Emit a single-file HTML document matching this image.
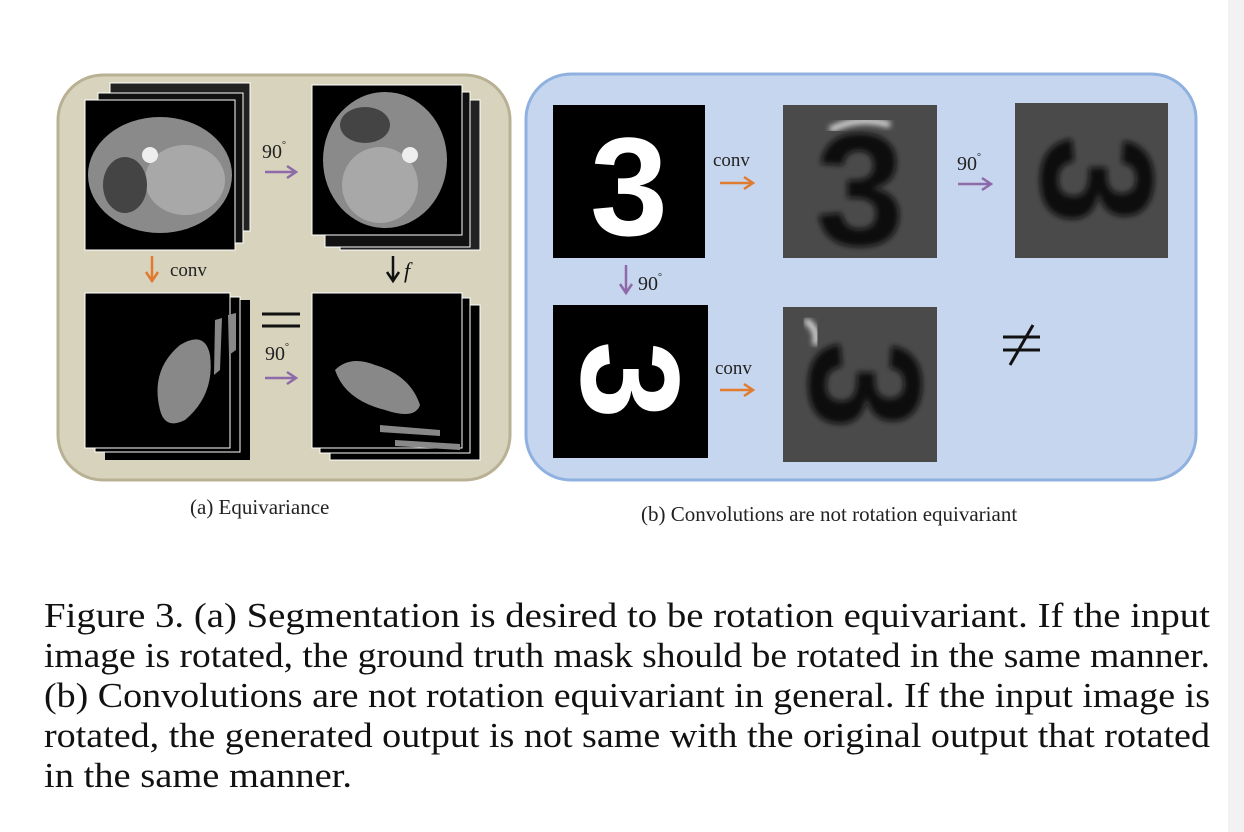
<!DOCTYPE html>
<html><head><meta charset="utf-8"><style>
html,body{margin:0;padding:0;background:#fff;}
svg{display:block;}
text{font-family:"Liberation Serif",serif;}
.sans{font-family:"Liberation Sans",sans-serif;}
</style></head><body>
<svg width="1244" height="832" viewBox="0 0 1244 832">
<defs>
<filter id="blur2"><feGaussianBlur stdDeviation="3"/></filter>
</defs>
<rect x="1228" y="0" width="16" height="832" fill="#f2f2f2"/>

<g>
<rect x="58" y="75" width="452" height="405" rx="45" fill="#d8d3bd" stroke="#b9b193" stroke-width="3"/>
<g>
<rect x="110" y="83" width="140" height="148" fill="#222" stroke="#fff"/>
<rect x="98" y="93" width="145" height="150" fill="#111" stroke="#fff"/>
<rect x="85" y="100" width="150" height="150" fill="#000" stroke="#fff"/>
<ellipse cx="160" cy="175" rx="72" ry="58" fill="#8a8a8a"/>
<ellipse cx="185" cy="180" rx="40" ry="35" fill="#a8a8a8"/>
<ellipse cx="125" cy="185" rx="22" ry="28" fill="#444"/>
<circle cx="150" cy="155" r="8" fill="#eee"/>
</g>
<g>
<rect x="340" y="100" width="140" height="150" fill="#222" stroke="#fff"/>
<rect x="325" y="92" width="145" height="155" fill="#111" stroke="#fff"/>
<rect x="312" y="85" width="150" height="150" fill="#000" stroke="#fff"/>
<ellipse cx="385" cy="160" rx="62" ry="68" fill="#8a8a8a"/>
<ellipse cx="380" cy="185" rx="38" ry="38" fill="#a8a8a8"/>
<ellipse cx="365" cy="125" rx="25" ry="18" fill="#444"/>
<circle cx="410" cy="155" r="8" fill="#eee"/>
</g>
<g>
<rect x="105" y="300" width="145" height="160" fill="#000"/>
<rect x="95" y="297" width="145" height="155" fill="#000" stroke="#fff"/>
<rect x="85" y="293" width="145" height="155" fill="#000" stroke="#fff"/>
<path d="M160 410 Q150 370 180 345 Q205 330 210 355 Q215 395 185 420 Q165 430 160 410Z" fill="#888"/>
<path d="M215 320 L222 318 L220 370 L214 375Z" fill="#888"/>
<path d="M228 315 L236 313 L236 350 L229 355Z" fill="#888"/>
</g>
<g>
<rect x="330" y="305" width="150" height="155" fill="#000" stroke="#fff"/>
<rect x="320" y="298" width="150" height="155" fill="#000" stroke="#fff"/>
<rect x="312" y="293" width="150" height="155" fill="#000" stroke="#fff"/>
<path d="M335 370 Q350 355 375 365 Q410 375 420 405 Q415 420 385 410 Q345 400 335 370Z" fill="#888"/>
<path d="M380 425 L440 430 L440 436 L380 432Z" fill="#888"/>
<path d="M395 440 L460 444 L460 450 L395 446Z" fill="#888"/>
</g>
<text x="262" y="158" font-size="20" fill="#222">90<tspan font-size="10" dy="-10">°</tspan></text>
<path d="M265 172 H295 M287 166 L296 172 L287 178" stroke="#8e6aa8" stroke-width="2.5" fill="none"/>
<path d="M152 256 V280 M146 272 L152 281 L158 272" stroke="#e07b30" stroke-width="2.5" fill="none"/>
<text x="170" y="276" font-size="19" fill="#222">conv</text>
<path d="M393 256 V280 M387 272 L393 281 L399 272" stroke="#111" stroke-width="2.5" fill="none"/>
<text x="404" y="278" font-size="22" font-style="italic" fill="#111">f</text>
<path d="M262 314 H300 M262 326 H300" stroke="#111" stroke-width="3"/>
<text x="265" y="360" font-size="20" fill="#222">90<tspan font-size="10" dy="-10">°</tspan></text>
<path d="M265 378 H295 M287 372 L296 378 L287 384" stroke="#8e6aa8" stroke-width="2.5" fill="none"/>
</g>

<g>
<rect x="526" y="74" width="670" height="406" rx="45" fill="#c6d6ee" stroke="#8fb1e0" stroke-width="3"/>
<g>
<rect x="553" y="105" width="152" height="153" fill="#000"/>
<text class="sans" style="font-family:'Liberation Sans',sans-serif" x="629" y="235" font-size="140" font-weight="bold" fill="#fff" text-anchor="middle">3</text>
</g>
<g>
<rect x="783" y="105" width="154" height="153" fill="#4a4a4a"/>
<text style="font-family:'Liberation Sans',sans-serif" x="860" y="245" font-size="160" font-weight="bold" fill="#0a0a0a" text-anchor="middle" filter="url(#blur2)">3</text>
<path d="M830 130 Q860 115 890 125" stroke="#ddd" stroke-width="6" fill="none" filter="url(#blur2)"/>
</g>
<g>
<rect x="1015" y="103" width="153" height="155" fill="#4a4a4a"/>
<text style="font-family:'Liberation Sans',sans-serif" transform="translate(1092 180) rotate(90)" x="0" y="50" font-size="160" font-weight="bold" fill="#0a0a0a" text-anchor="middle" filter="url(#blur2)">3</text>
</g>
<g>
<rect x="553" y="305" width="155" height="153" fill="#000"/>
<text style="font-family:'Liberation Sans',sans-serif" transform="translate(630 380) rotate(90)" x="0" y="48" font-size="140" font-weight="bold" fill="#fff" text-anchor="middle">3</text>
</g>
<g>
<rect x="783" y="307" width="154" height="155" fill="#4a4a4a"/>
<text style="font-family:'Liberation Sans',sans-serif" transform="translate(860 385) rotate(90)" x="0" y="50" font-size="160" font-weight="bold" fill="#0a0a0a" text-anchor="middle" filter="url(#blur2)">3</text>
<path d="M805 320 Q820 330 815 345" stroke="#ddd" stroke-width="6" fill="none" filter="url(#blur2)"/>
</g>
<text x="713" y="166" font-size="19" fill="#222">conv</text>
<path d="M720 183 H752 M744 177 L753 183 L744 189" stroke="#e07b30" stroke-width="2.5" fill="none"/>
<text x="957" y="170" font-size="20" fill="#222">90<tspan font-size="10" dy="-10">°</tspan></text>
<path d="M958 184 H990 M982 178 L991 184 L982 190" stroke="#8e6aa8" stroke-width="2.5" fill="none"/>
<path d="M626 265 V292 M620 284 L626 293 L632 284" stroke="#8e6aa8" stroke-width="2.5" fill="none"/>
<text x="638" y="290" font-size="20" fill="#222">90<tspan font-size="10" dy="-10">°</tspan></text>
<text x="715" y="374" font-size="19" fill="#222">conv</text>
<path d="M720 390 H752 M744 384 L753 390 L744 396" stroke="#e07b30" stroke-width="2.5" fill="none"/>
<g stroke="#111" stroke-width="3">
<path d="M1003 337 H1040 M1003 350 H1040"/>
<path d="M1010 365 L1033 325"/>
</g>
</g>

<text x="190" y="514" font-size="21" fill="#222">(a)  Equivariance</text>
<text x="641" y="521" font-size="21" fill="#222">(b) Convolutions are not rotation equivariant</text>

<g font-size="35" fill="#111">
<text x="44" y="627" textLength="1166" lengthAdjust="spacingAndGlyphs">Figure 3.  (a) Segmentation is desired to be rotation equivariant. If the input</text>
<text x="44" y="667" textLength="1166" lengthAdjust="spacingAndGlyphs">image is rotated, the ground truth mask should be rotated in the same manner.</text>
<text x="44" y="707" textLength="1166" lengthAdjust="spacingAndGlyphs">(b) Convolutions are not rotation equivariant in general. If the input image is</text>
<text x="44" y="747" textLength="1166" lengthAdjust="spacingAndGlyphs">rotated, the generated output is not same with the original output that rotated</text>
<text x="44" y="787" textLength="308" lengthAdjust="spacingAndGlyphs">in the same manner.</text>
</g>
</svg>
</body></html>
